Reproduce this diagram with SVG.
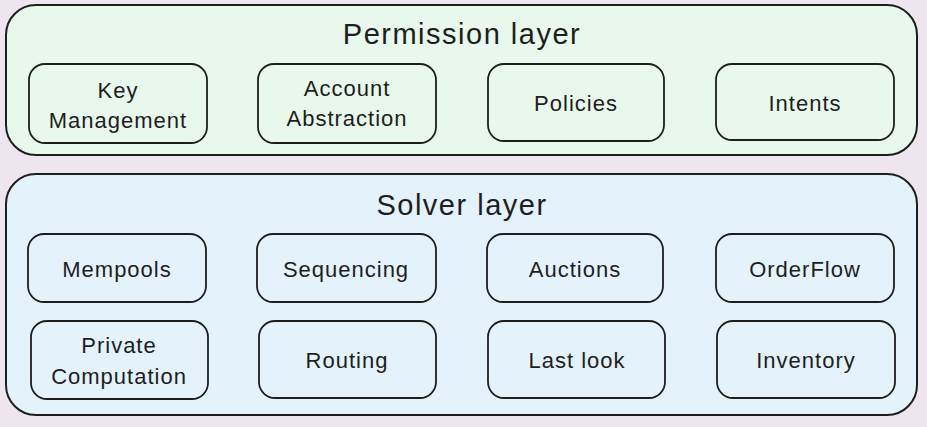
<svg xmlns="http://www.w3.org/2000/svg" width="927" height="427" viewBox="0 0 927 427">
<style>
.layer{stroke:#1e1e1e;stroke-width:2}
.box{fill:none;stroke:#1e1e1e;stroke-width:1.8}
.t{font-family:"Liberation Sans","DejaVu Sans",sans-serif;fill:#1e1e1e;text-anchor:middle}
.title{font-size:29px;letter-spacing:1.5px}
.lbl{font-size:22px;letter-spacing:1px}
</style>
<rect width="927" height="427" fill="#ede6ee"/>
<g id="permission-layer">
<rect class="layer" x="6" y="5" width="911" height="150" rx="30" fill="#e8f8ec"/>
<text class="t title" x="462" y="44">Permission layer</text>
</g>
<g id="key-management"><rect class="box" x="29" y="64" width="178" height="79" rx="16"/><text class="t lbl" x="118" y="98">Key</text><text class="t lbl" x="118" y="128">Management</text></g>
<g id="account-abstraction"><rect class="box" x="258" y="64" width="178" height="79" rx="16"/><text class="t lbl" x="347" y="96">Account</text><text class="t lbl" x="347" y="126">Abstraction</text></g>
<g id="policies"><rect class="box" x="488" y="64" width="176" height="77" rx="16"/><text class="t lbl" x="576" y="111">Policies</text></g>
<g id="intents"><rect class="box" x="716" y="64" width="178" height="76" rx="16"/><text class="t lbl" x="805" y="111">Intents</text></g>
<g id="solver-layer">
<rect class="layer" x="6" y="174" width="911" height="241" rx="30" fill="#e4f2fb"/>
<text class="t title" x="462" y="215">Solver layer</text>
</g>
<g id="mempools"><rect class="box" x="28" y="234" width="178" height="68" rx="16"/><text class="t lbl" x="117" y="277">Mempools</text></g>
<g id="sequencing"><rect class="box" x="257" y="234" width="179" height="68" rx="16"/><text class="t lbl" x="346" y="277">Sequencing</text></g>
<g id="auctions"><rect class="box" x="487" y="234" width="176" height="68" rx="16"/><text class="t lbl" x="575" y="277">Auctions</text></g>
<g id="orderflow"><rect class="box" x="716" y="234" width="178" height="68" rx="16"/><text class="t lbl" x="805" y="277">OrderFlow</text></g>
<g id="private-computation"><rect class="box" x="31" y="321" width="177" height="78" rx="16"/><text class="t lbl" x="119" y="353">Private</text><text class="t lbl" x="119" y="384">Computation</text></g>
<g id="routing"><rect class="box" x="259" y="321" width="177" height="77" rx="16"/><text class="t lbl" x="347" y="368">Routing</text></g>
<g id="last-look"><rect class="box" x="488" y="321" width="177" height="77" rx="16"/><text class="t lbl" x="577" y="368">Last look</text></g>
<g id="inventory"><rect class="box" x="717" y="321" width="178" height="77" rx="16"/><text class="t lbl" x="806" y="368">Inventory</text></g>
<g id="connectors"></g>
</svg>
